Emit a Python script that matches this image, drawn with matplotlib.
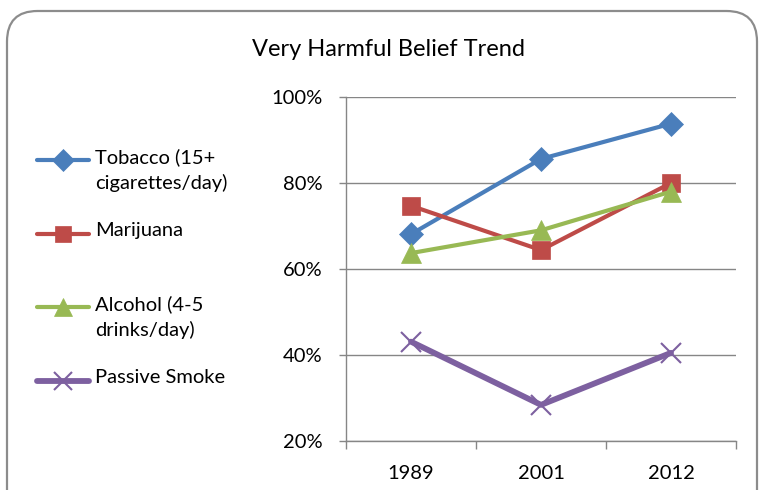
import matplotlib
matplotlib.use("Agg")
from matplotlib import pyplot as plt
from matplotlib.patches import FancyBboxPatch
from matplotlib.lines import Line2D
from matplotlib.ticker import PercentFormatter

plt.rcParams['font.family'] = ['Lato', 'DejaVu Sans']

years = ['1989', '2001', '2012']
series_names = ['Tobacco (15+\ncigarettes/day)', 'Marijuana',
                'Alcohol (4-5\ndrinks/day)', 'Passive Smoke']
tobacco = [68.1, 85.6, 93.8]
marijuana = [74.7, 64.4, 80.0]
alcohol = [63.7, 69.0, 78.0]
passive_smoke = [43.1, 28.4, 40.5]

colors = ['#4a7ebb', '#be4b48', '#98b954', '#7d60a0']
markers = ['D', 's', '^', 'x']
msizes = [12, 13, 14, 14]
widths = [3.0, 3.0, 3.0, 4.2]

W, H = 763, 490
fig = plt.figure(figsize=(W / 100, H / 100), dpi=100)

# rounded chart frame, runs past the bottom edge
frame = FancyBboxPatch((7 / W, -0.2), 750 / W, 1.2 - 11 / H,
                       boxstyle='round,pad=0,rounding_size=0.04',
                       transform=fig.transFigure, facecolor='white',
                       edgecolor='#8c8c8c', linewidth=1.6, mutation_aspect=W / H,
                       zorder=-10)
fig.patches.append(frame)

fig.text(389 / W, 1 - 49 / H, 'Very Harmful Belief Trend', ha='center',
         va='center', fontsize=17, color='black')

ax = fig.add_axes([346 / W, 1 - 441 / H, 390 / W, 344 / H])
ax.set_facecolor('none')
x = range(len(years))
all_series = [tobacco, marijuana, alcohol, passive_smoke]
for vals, c, m, ms, lw in zip(all_series, colors, markers, msizes, widths):
    ax.plot(x, vals, color=c, marker=m, markersize=ms, linewidth=lw,
            markeredgewidth=1.5 if m == 'x' else 0.5, markeredgecolor=c,
            solid_capstyle='round', zorder=3)

ax.set_xlim(-0.5, 2.5)
ax.set_ylim(20, 100)
ax.set_yticks([20, 40, 60, 80, 100])
ax.yaxis.set_major_formatter(PercentFormatter(decimals=0))
ax.set_xticks(list(x))
ax.set_xticklabels(years)
ax.set_xticks([-0.5, 0.5, 1.5, 2.5], minor=True)
ax.tick_params(axis='x', which='major', length=0, pad=17, labelsize=14.5)
ax.tick_params(axis='x', which='minor', length=6, color='#868686', width=1)
ax.tick_params(axis='y', length=5, color='#868686', width=1, pad=12, labelsize=14.5)
ax.grid(axis='y', color='#868686', linewidth=1)
ax.set_axisbelow(True)
for side in ['top', 'right']:
    ax.spines[side].set_visible(False)
for side in ['left', 'bottom']:
    ax.spines[side].set_color('#868686')
    ax.spines[side].set_linewidth(1)

# legend drawn by hand so multi-line entries keep the marker on the first line
legend_rows = [160, 234, 307, 381]
for name, row, c, m, ms, lw in zip(series_names, legend_rows, colors, markers, msizes, widths):
    yf = 1 - row / H
    fig.add_artist(Line2D([37 / W, 89 / W], [yf, yf], color=c, linewidth=lw,
                          solid_capstyle='round', transform=fig.transFigure))
    fig.add_artist(Line2D([63 / W], [yf], color=c, marker=m, markersize=ms - 1,
                          markeredgewidth=1.5 if m == 'x' else 0.5, markeredgecolor=c,
                          transform=fig.transFigure))
    fig.text(95 / W, yf + 12 / H, name, ha='left', va='top', fontsize=14.5,
             linespacing=1.55)

fig.savefig('out.png', dpi=100)
